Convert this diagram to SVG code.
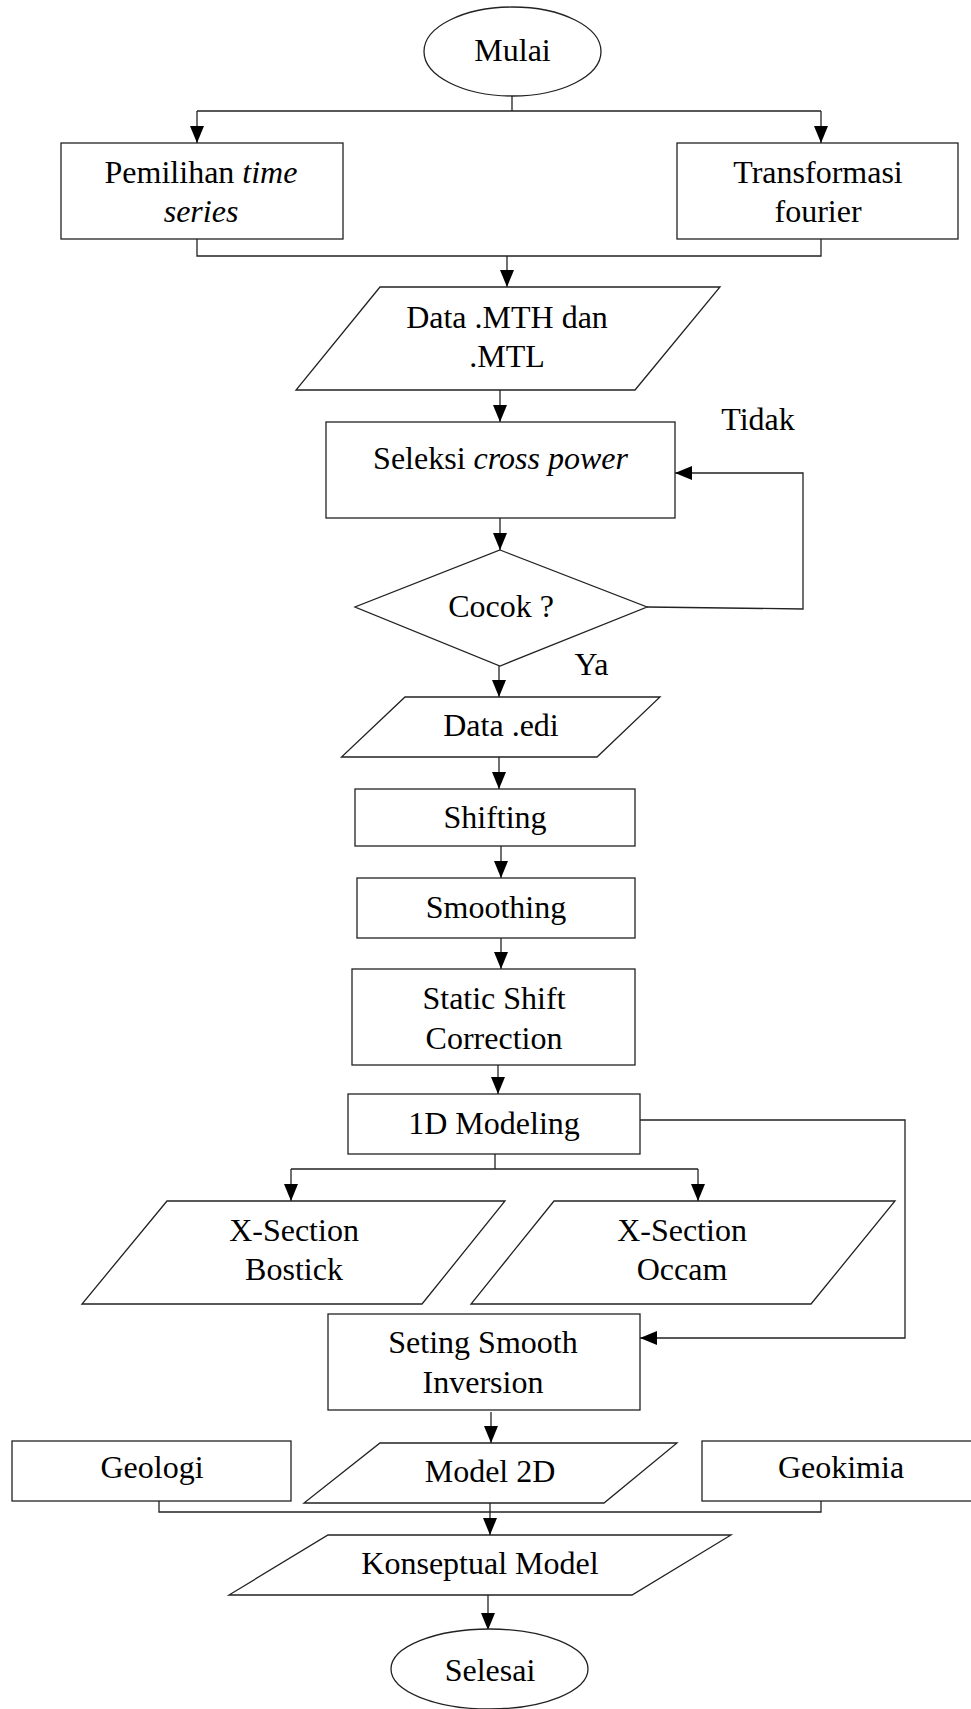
<svg xmlns="http://www.w3.org/2000/svg" width="971" height="1709" viewBox="0 0 971 1709">
<style>
.s{fill:#fff;stroke:#222;stroke-width:1.3}
.c{fill:none;stroke:#222;stroke-width:1.3}
text{font-family:"Liberation Serif","Times New Roman",serif;font-size:32px;fill:#000;text-anchor:middle}
.i{font-style:italic}
</style>
<defs>
<marker id="a" markerUnits="userSpaceOnUse" markerWidth="17" markerHeight="14" refX="17" refY="7" orient="auto">
<path d="M0,0 L17,7 L0,14 z" fill="#000"/>
</marker>
</defs>
<rect width="971" height="1709" fill="#fff"/>
<g id="connectors">
<path class="c" d="M512,96 V111 M197,111 H821"/>
<path class="c" d="M197,111 V143" marker-end="url(#a)"/>
<path class="c" d="M821,111 V143" marker-end="url(#a)"/>
<path class="c" d="M197,239 V256 H821 V239"/>
<path class="c" d="M507,256 V287" marker-end="url(#a)"/>
<path class="c" d="M500,390 V422" marker-end="url(#a)"/>
<path class="c" d="M500,518 V550" marker-end="url(#a)"/>
<path class="c" d="M647,607 L803,609 V473 H675" marker-end="url(#a)"/>
<path class="c" d="M499,666 V697" marker-end="url(#a)"/>
<path class="c" d="M499,757 V789" marker-end="url(#a)"/>
<path class="c" d="M501,846 V878" marker-end="url(#a)"/>
<path class="c" d="M501,938 V969" marker-end="url(#a)"/>
<path class="c" d="M498,1065 V1094" marker-end="url(#a)"/>
<path class="c" d="M495,1154 V1169 M291,1169 H698"/>
<path class="c" d="M291,1169 V1201" marker-end="url(#a)"/>
<path class="c" d="M698,1169 V1201" marker-end="url(#a)"/>
<path class="c" d="M640,1120 H905 V1338 H640" marker-end="url(#a)"/>
<path class="c" d="M491,1412 V1443" marker-end="url(#a)"/>
<path class="c" d="M159,1501 V1512 H821 V1501"/>
<path class="c" d="M490,1503 V1535" marker-end="url(#a)"/>
<path class="c" d="M488,1595 V1630" marker-end="url(#a)"/>
</g>
<g id="mulai"><ellipse class="s" cx="512.5" cy="51.5" rx="88.5" ry="44.5"/><text x="512.5" y="61">Mulai</text></g>
<g id="pemilihan"><rect class="s" x="61" y="143" width="282" height="96"/><text x="201" y="183">Pemilihan <tspan class="i">time</tspan></text><text class="i" x="201" y="222">series</text></g>
<g id="transformasi"><rect class="s" x="677" y="143" width="281" height="96"/><text x="818" y="183">Transformasi</text><text x="818" y="222">fourier</text></g>
<g id="data-mth"><polygon class="s" points="380,287 720,287 635,390 296,390"/><text x="507" y="328">Data .MTH dan</text><text x="507" y="367">.MTL</text></g>
<g id="seleksi"><rect class="s" x="326" y="422" width="349" height="96"/><text x="500.5" y="469">Seleksi <tspan class="i">cross power</tspan></text></g>
<g id="tidak"><text x="758" y="430">Tidak</text></g>
<g id="cocok"><polygon class="s" points="500,550 647,607 500,666 355,607"/><text x="501" y="617">Cocok ?</text></g>
<g id="ya"><text x="591.5" y="675">Ya</text></g>
<g id="data-edi"><polygon class="s" points="405,697 660,697 597,757 341.5,757"/><text x="501" y="736">Data .edi</text></g>
<g id="shifting"><rect class="s" x="355" y="789" width="280" height="57"/><text x="495" y="828">Shifting</text></g>
<g id="smoothing"><rect class="s" x="357" y="878" width="278" height="60"/><text x="496" y="918">Smoothing</text></g>
<g id="static"><rect class="s" x="352" y="969" width="283" height="96"/><text x="494" y="1009">Static Shift</text><text x="494" y="1049">Correction</text></g>
<g id="modeling1d"><rect class="s" x="348" y="1094" width="292" height="60"/><text x="494" y="1134">1D Modeling</text></g>
<g id="bostick"><polygon class="s" points="167,1201 505,1201 422,1304 82,1304"/><text x="294" y="1241">X-Section</text><text x="294" y="1280">Bostick</text></g>
<g id="occam"><polygon class="s" points="554,1201 895,1201 811,1304 471,1304"/><text x="682" y="1241">X-Section</text><text x="682" y="1280">Occam</text></g>
<g id="seting"><rect class="s" x="328" y="1314" width="312" height="96"/><text x="483" y="1353">Seting Smooth</text><text x="483" y="1393">Inversion</text></g>
<g id="geologi"><rect class="s" x="12" y="1441" width="279" height="60"/><text x="152" y="1478">Geologi</text></g>
<g id="model2d"><polygon class="s" points="380,1443 677,1443 604,1503 304,1503"/><text x="490" y="1482">Model 2D</text></g>
<g id="geokimia"><rect class="s" x="702" y="1441" width="275" height="60"/><text x="841" y="1478">Geokimia</text></g>
<g id="konseptual"><polygon class="s" points="328,1535 731,1535 632,1595 229,1595"/><text x="480" y="1574">Konseptual Model</text></g>
<g id="selesai"><ellipse class="s" cx="489.5" cy="1669" rx="98.5" ry="40"/><text x="490" y="1681">Selesai</text></g>
</svg>
